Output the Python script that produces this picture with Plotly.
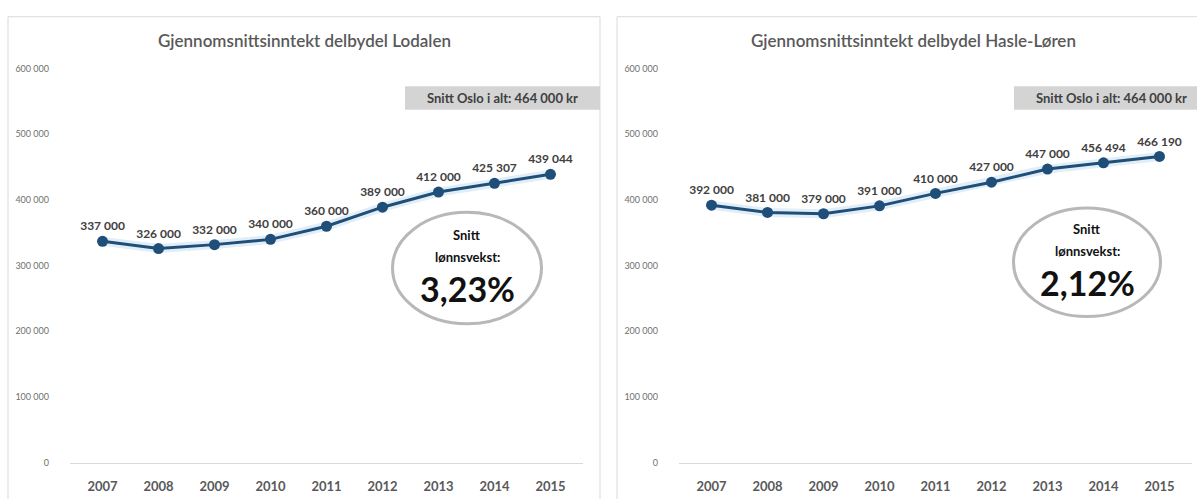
import plotly.graph_objects as go

# Average income per year for the two sub-districts
years = ["2007", "2008", "2009", "2010", "2011", "2012", "2013", "2014", "2015"]
lodalen = [337000, 326000, 332000, 340000, 360000, 389000, 412000, 425307, 439044]
hasle_loren = [392000, 381000, 379000, 391000, 410000, 427000, 447000, 456494, 466190]

titles = ["Gjennomsnittsinntekt delbydel Lodalen",
          "Gjennomsnittsinntekt delbydel Hasle-Løren"]
oslo_avg = 464000
wage_growth = ["3,23%", "2,12%"]
y_ticks = [0, 100000, 200000, 300000, 400000, 500000, 600000]

W, H = 1197, 499
FONT = "Lato, 'Open Sans', sans-serif"
LINE_BLUE = "#1f4e79"


def px(x):
    return x / W


def py(y):
    return 1 - y / H


def label(x, y, text, size, color, weight="bold"):
    fig.add_annotation(xref="paper", yref="paper", x=px(x), y=py(y),
                       text=text, showarrow=False,
                       xanchor="center", yanchor="middle",
                       font=dict(family=FONT, size=size, color=color, weight=weight))


fig = go.Figure()

panels = [
    dict(series=lodalen, off=0, ell=(467, 268, 149, 114)),
    dict(series=hasle_loren, off=609, ell=(1087, 262, 147, 111)),
]

for i, p in enumerate(panels):
    o = p["off"]
    xa = "x" if i == 0 else "x2"
    ya = "y" if i == 0 else "y2"

    # soft halo under the line
    fig.add_trace(go.Scatter(
        x=years, y=p["series"], xaxis=xa, yaxis=ya, mode="lines",
        line=dict(color="rgba(189,215,238,0.45)", width=9),
        hoverinfo="skip", showlegend=False))
    fig.add_trace(go.Scatter(
        x=years, y=p["series"], xaxis=xa, yaxis=ya,
        mode="lines+markers+text",
        line=dict(color=LINE_BLUE, width=3),
        marker=dict(color=LINE_BLUE, size=11),
        texttemplate="%{y:,d}", textposition="top center",
        textfont=dict(family=FONT, size=12, color="#404040", weight="bold"),
        showlegend=False))

    axis_x = dict(
        domain=[px(70 + o), px(583 + o)], type="category",
        showline=True, linecolor="#d9d9d9", linewidth=1,
        showgrid=False, zeroline=False, ticks="",
        tickfont=dict(family=FONT, size=13, color="#595959", weight="bold"),
        ticklabelstandoff=12, anchor=ya, fixedrange=True)
    axis_y = dict(
        domain=[py(467), py(64)], range=[0, 600000],
        tickvals=y_ticks, tickformat=",d",
        showgrid=False, zeroline=False, showline=False, ticks="",
        tickfont=dict(family=FONT, size=9, color="#707070"),
        ticklabelstandoff=20, anchor=xa, fixedrange=True)
    if i == 0:
        fig.update_layout(xaxis=axis_x, yaxis=axis_y)
    else:
        fig.update_layout(xaxis2=axis_x, yaxis2=axis_y)

    # panel frame
    fig.add_shape(type="rect", xref="paper", yref="paper",
                  x0=px(8 + o), x1=px(600 + o), y0=py(520), y1=py(11),
                  line=dict(color="#d9d9d9", width=1), fillcolor="rgba(0,0,0,0)",
                  layer="below")

    # panel title
    label(304 + o, 35, titles[i], 17, "#595959", weight=600)

    # Oslo average box
    fig.add_shape(type="rect", xref="paper", yref="paper",
                  x0=px(405 + o), x1=px(600 + o), y0=py(106), y1=py(82),
                  line=dict(width=0), fillcolor="#d4d4d4", layer="below")
    avg_txt = f"Snitt Oslo i alt: {oslo_avg:,d} kr".replace(",", " ")
    label(502 + o, 94, avg_txt, 13, "#404040")

    # wage-growth ellipse
    cx, cy, ew, eh = p["ell"]
    fig.add_shape(type="circle", xref="paper", yref="paper",
                  x0=px(cx - ew / 2), x1=px(cx + ew / 2),
                  y0=py(cy + eh / 2), y1=py(cy - eh / 2),
                  line=dict(color="#b8b8b8", width=3), fillcolor="white")
    label(cx, cy - 34, "Snitt", 13, "#111111")
    label(cx, cy - 11, "lønnsvekst:", 13, "#111111")
    label(cx, cy + 21, wage_growth[i], 34, "#111111")

fig.update_layout(
    width=W, height=H,
    margin=dict(l=0, r=0, t=0, b=0),
    paper_bgcolor="white", plot_bgcolor="white",
    separators=", ",
    showlegend=False,
)

fig.write_html("out.html")
